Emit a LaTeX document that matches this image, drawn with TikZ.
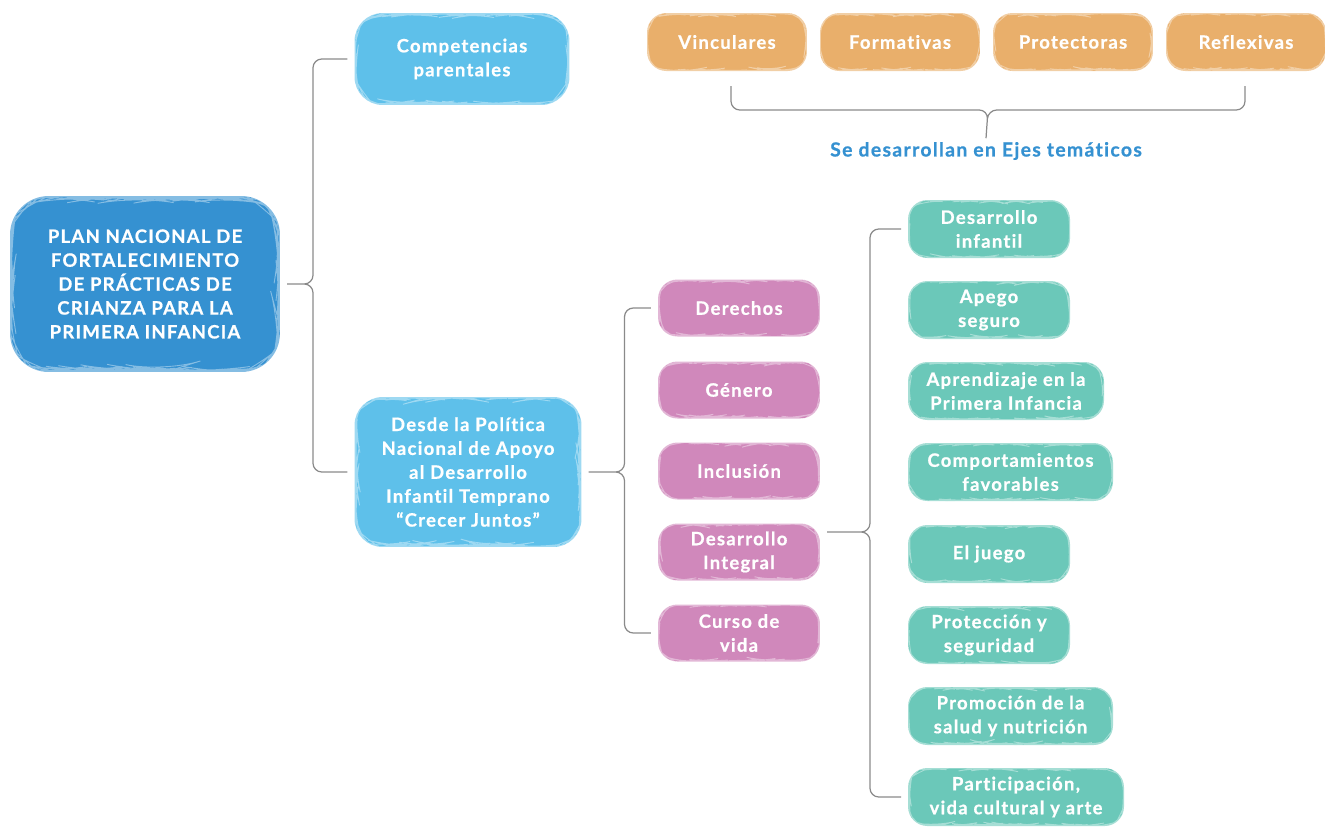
\documentclass[tikz,border=0pt]{standalone}
\usepackage{fontspec}
\usepackage{tikz}
\usetikzlibrary{calc}
\usetikzlibrary{decorations.pathmorphing}

\newfontfamily\boxfont{Lato}[LetterSpace=7, RawFeature=-liga, BoldFeatures={FakeBold=0.8}]

\definecolor{planblue}{HTML}{3591D1}
\definecolor{skyblue}{HTML}{5EC0EA}
\definecolor{ejeorange}{HTML}{E9AF6B}
\definecolor{enfpink}{HTML}{D088BB}
\definecolor{temagreen}{HTML}{6BC8B9}
\definecolor{linegray}{HTML}{8A8A8A}

\tikzset{
  box/.style={rounded corners=11pt, text=white, align=center, inner sep=0pt, outer sep=4pt,
    font=\boxfont\bfseries\fontsize{10.5}{13.6}\selectfont,
    postaction={draw=white, draw opacity=0.4, line width=0.5pt, decorate,
      decoration={random steps, segment length=2.5pt, amplitude=0.35pt}}},
  planbox/.style={box, fill=planblue, rounded corners=22pt, minimum width=5.4cm, minimum height=3.52cm},
  skybox/.style={box, fill=skyblue, rounded corners=16pt, minimum width=4.3cm},
  ejebox/.style={box, fill=ejeorange, minimum width=3.2cm, minimum height=1.16cm},
  enfbox/.style={box, fill=enfpink, minimum width=3.24cm, minimum height=1.14cm},
  temabox/.style={box, fill=temagreen, anchor=west, minimum width=3.24cm, minimum height=1.16cm},
  link/.style={draw=linegray, line width=0.7pt, rounded corners=5pt}
}

\begin{document}
\begin{tikzpicture}[x=0.02cm,y=-0.02cm]

  \useasboundingbox (0,0) rectangle (1325,826);

  % plan and its two branches
  \node [planbox] (plan) at (145,284) {PLAN NACIONAL DE\\FORTALECIMIENTO\\DE PRÁCTICAS DE\\CRIANZA PARA LA\\PRIMERA INFANCIA};
  \node [skybox, minimum height=1.84cm] (comp) at (462,59) {Competencias\\parentales};
  \node [skybox, minimum width=4.54cm, minimum height=3.0cm] (desde) at (468,472)
    {Desde la Política\\Nacional de Apoyo\\al Desarrollo\\Infantil Temprano\\“Crecer Juntos”};

  \coordinate (mainbrace) at ($(plan.east)+(26,0)$);
  \path [link]
    (plan.east) -- (mainbrace) |- (comp.west)
    (plan.east) -- (mainbrace) |- (desde.west);

  % ejes
  \node [ejebox] (vin) at (727,42) {Vinculares};
  \node [ejebox] (form) at (900,42) {Formativas};
  \node [ejebox] (prot) at (1073,42) {Protectoras};
  \node [ejebox] (refl) at (1246,42) {Reflexivas};

  \node [text=planblue, font=\boxfont\bfseries\fontsize{11}{13.6}\selectfont, inner sep=2pt] (ejes) at (986,151)
    {Se desarrollan en Ejes temáticos};

  \coordinate (ejebrace) at (988,110);
  \path [link]
    ($(vin.south)+(4,8)$) |- (ejebrace) -- (ejes.north)
    ($(refl.south)+(-1,8)$) |- (ejebrace) -- (ejes.north);

  % enfoques
  \node [enfbox] (der) at (739,308) {Derechos};
  \node [enfbox] (gen) at (739,390) {Género};
  \node [enfbox] (incl) at (739,471) {Inclusión};
  \node [enfbox] (desint) at (739,552) {Desarrollo\\Integral};
  \node [enfbox] (curso) at (739,633) {Curso de\\vida};

  \coordinate (enfbrace) at ($(desde.east)+(36,0)$);
  \path [link]
    (desde.east) -- (enfbrace) |- (der.west)
    (desde.east) -- (enfbrace) |- (curso.west);

  % temas
  \node [temabox] (desinf) at (901,229) {Desarrollo\\infantil};
  \node [temabox] (apego) at (901,310) {Apego\\seguro};
  \node [temabox, minimum width=3.92cm] (apren) at (901,391) {Aprendizaje en la\\Primera Infancia};
  \node [temabox, minimum width=4.1cm] (comport) at (901,472) {Comportamientos\\favorables};
  \node [temabox] (juego) at (901,554) {El juego};
  \node [temabox] (protec) at (901,635) {Protección y\\seguridad};
  \node [temabox, minimum width=4.1cm] (promo) at (901,716) {Promoción de la\\salud y nutrición};
  \node [temabox, minimum width=4.32cm] (partic) at (901,797) {Participación,\\vida cultural y arte};

  \coordinate (temabrace) at (870,532);
  \path [link]
    (desint.east |- temabrace) -- (temabrace) |- (desinf.west)
    (desint.east |- temabrace) -- (temabrace) |- (partic.west);

\end{tikzpicture}
\end{document}
